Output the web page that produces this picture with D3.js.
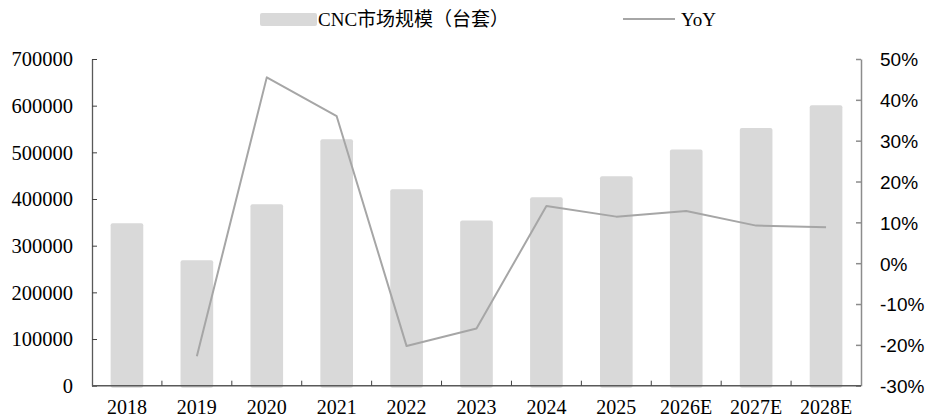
<!DOCTYPE html>
<html>
<head>
<meta charset="utf-8">
<script src="https://cdn.jsdelivr.net/npm/d3@7/dist/d3.min.js"></script>
<style>
  html, body { margin: 0; padding: 0; background: #fff; }
  svg { display: block; }
</style>
</head>
<body>
<script>
// CNC market size (sets) and year-on-year growth
const years = ["2018", "2019", "2020", "2021", "2022", "2023", "2024", "2025", "2026E", "2027E", "2028E"];
const marketSize = [348000, 269000, 389000, 528000, 421000, 354000, 404000, 449000, 506000, 552000, 601000];
const yoy = [null, -0.228, 0.455, 0.360, -0.203, -0.160, 0.140, 0.114, 0.128, 0.092, 0.088];
const leftTicks = [0, 100000, 200000, 300000, 400000, 500000, 600000, 700000];
const rightTicks = [-0.3, -0.2, -0.1, 0, 0.1, 0.2, 0.3, 0.4, 0.5];
const legendLabels = ["CNC市场规模（台套）", "YoY"];

const W = 929, H = 419;
const plot = { left: 92, right: 861, top: 59, bottom: 385.7 };

const svg = d3.select("body").append("svg")
  .attr("width", W).attr("height", H);

const serif = "'Liberation Serif', 'Times New Roman', 'Noto Sans CJK SC', serif";
const sans = "'Liberation Sans', Arial, sans-serif";

const x = d3.scaleBand()
  .domain(years)
  .range([plot.left, plot.right])
  .paddingInner(0.533)
  .paddingOuter(0.2665);

const yL = d3.scaleLinear().domain([0, 700000]).range([plot.bottom, plot.top]);
const yR = d3.scaleLinear().domain([-0.3, 0.5]).range([plot.bottom, plot.top]);

// Bars (rounded tops, base tucked under the axis)
svg.append("g").selectAll("rect")
  .data(years.map((y, i) => ({ year: y, v: marketSize[i] })))
  .join("rect")
  .attr("x", d => x(d.year))
  .attr("width", x.bandwidth())
  .attr("y", d => yL(d.v))
  .attr("height", d => yL(0) - yL(d.v) + 2)
  .attr("rx", 2)
  .attr("fill", "#d9d9d9");

// YoY line
const pts = years.map((y, i) => ({ year: y, v: yoy[i] })).filter(d => d.v !== null);
svg.append("path")
  .datum(pts)
  .attr("fill", "none")
  .attr("stroke", "#a6a6a6")
  .attr("stroke-width", 2)
  .attr("stroke-linejoin", "round")
  .attr("d", d3.line()
    .x(d => x(d.year) + x.bandwidth() / 2)
    .y(d => yR(d.v)));

// Left axis
const gL = svg.append("g")
  .attr("transform", `translate(${plot.left},0)`)
  .call(d3.axisLeft(yL).tickValues(leftTicks).tickSizeInner(-5).tickSizeOuter(0).tickPadding(19)
    .tickFormat(d3.format("d")));
gL.select(".domain").attr("stroke", "#595959").attr("stroke-width", 1.3);
gL.selectAll(".tick line").attr("stroke", "#404040");
gL.selectAll(".tick text")
  .attr("font-family", serif).attr("font-size", 20.5).attr("fill", "#000")
  .attr("dx", 0).attr("dy", "0.33em");

// Right axis (plain hyphen for negatives)
const pct = v => Math.round(v * 100) + "%";
const gR = svg.append("g")
  .attr("transform", `translate(${plot.right},0)`)
  .call(d3.axisRight(yR).tickValues(rightTicks).tickSizeInner(-5).tickSizeOuter(0).tickPadding(19)
    .tickFormat(pct));
gR.select(".domain").attr("stroke", "#8c8c8c").attr("stroke-width", 1.5);
gR.selectAll(".tick line").attr("stroke", "#8c8c8c").attr("stroke-width", 1.5);
gR.selectAll(".tick text")
  .attr("font-family", sans).attr("font-size", 19).attr("fill", "#000")
  .attr("dy", "0.36em");

// Bottom axis: ticks at interior band boundaries, labels at band centres
const xAxisG = svg.append("g");
xAxisG.append("line")
  .attr("x1", plot.left).attr("x2", plot.right)
  .attr("y1", yL(0)).attr("y2", yL(0))
  .attr("stroke", "#595959").attr("stroke-width", 1.5);
const step = x.step();
xAxisG.selectAll("line.tk")
  .data(years.slice(1))
  .join("line")
  .attr("class", "tk")
  .attr("x1", d => x(d) - (step - x.bandwidth()) / 2)
  .attr("x2", d => x(d) - (step - x.bandwidth()) / 2)
  .attr("y1", yL(0)).attr("y2", yL(0) - 5)
  .attr("stroke", "#404040");
xAxisG.selectAll("text")
  .data(years)
  .join("text")
  .attr("x", d => x(d) + x.bandwidth() / 2)
  .attr("y", yL(0) + 28.5)
  .attr("text-anchor", "middle")
  .attr("font-family", serif).attr("font-size", 20).attr("fill", "#000")
  .text(d => d);

// Legend
const lg = svg.append("g");
lg.append("rect")
  .attr("x", 260).attr("y", 13).attr("width", 57).attr("height", 13)
  .attr("rx", 2).attr("fill", "#d9d9d9");
lg.append("text")
  .attr("x", 318).attr("y", 25.5)
  .attr("font-family", serif).attr("font-size", 19).attr("fill", "#000")
  .text(legendLabels[0]);
lg.append("line")
  .attr("x1", 623).attr("x2", 675).attr("y1", 19).attr("y2", 19)
  .attr("stroke", "#a6a6a6").attr("stroke-width", 2);
lg.append("text")
  .attr("x", 681).attr("y", 25.5)
  .attr("font-family", serif).attr("font-size", 19).attr("fill", "#000")
  .text(legendLabels[1]);
</script>
</body>
</html>
